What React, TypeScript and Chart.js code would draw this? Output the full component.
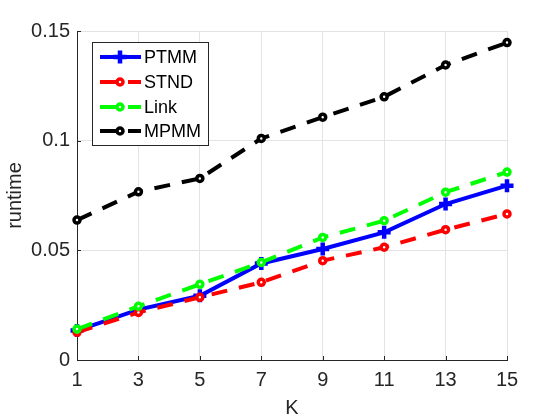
import React, { useEffect, useRef } from "react";
import { Chart, registerables } from "chart.js";

Chart.register(...registerables);

const kValues = [1, 3, 5, 7, 9, 11, 13, 15];
const ptmm = [0.0134, 0.023, 0.0293, 0.044, 0.0506, 0.0582, 0.0711, 0.0795];
const stnd = [0.0126, 0.0217, 0.0286, 0.0354, 0.0453, 0.0514, 0.0594, 0.0666];
const link = [0.0141, 0.0245, 0.0345, 0.0445, 0.0559, 0.0635, 0.0765, 0.0857];
const mpmm = [0.0638, 0.0767, 0.0828, 0.101, 0.1107, 0.12, 0.1345, 0.1447];

const xTicks = [1, 3, 5, 7, 9, 11, 13, 15];
const yTicks = [0, 0.05, 0.1, 0.15];
const yTickLabels = ["0", "0.05", "0.1", "0.15"];
const seriesNames = ["PTMM", "STND", "Link", "MPMM"];
const xTitle = "K";
const yTitle = "runtime";

const FONT = '"Liberation Sans", Arial, Helvetica, sans-serif';
const AXIS = "#262626";
const DASH = [16, 12];

export default function App() {
  const ref = useRef<HTMLCanvasElement>(null);

  useEffect(() => {
    const canvas = ref.current;
    if (!canvas) return;

    const styles = [
      { color: "#0000ff", dash: [] as number[], point: "cross", radius: 6.5, pbw: 4.5, fill: "#0000ff", order: 3 },
      { color: "#ff0000", dash: DASH, point: "circle", radius: 3, pbw: 3.5, fill: "#ffffff", order: 2 },
      { color: "#00ff00", dash: DASH, point: "circle", radius: 3, pbw: 3.5, fill: "#ffffff", order: 1 },
      { color: "#000000", dash: DASH, point: "circle", radius: 3, pbw: 3.5, fill: "#ffffff", order: 0 },
    ];
    const allData = [ptmm, stnd, link, mpmm];

    const datasets = allData.map((vals, i) => {
      const s = styles[i];
      return {
        label: seriesNames[i],
        data: kValues.map((k, j) => ({ x: k, y: vals[j] })),
        borderColor: s.color,
        backgroundColor: s.color,
        borderWidth: 4,
        borderDash: s.dash,
        borderCapStyle: "butt" as const,
        pointStyle: s.point as any,
        pointRadius: s.radius,
        pointBorderWidth: s.pbw,
        pointBorderColor: s.color,
        pointBackgroundColor: s.fill,
        tension: 0,
        order: s.order,
        clip: false as any,
      };
    });

    const decor = {
      id: "decor",
      beforeDatasetsDraw(chart: any) {
        const ctx = chart.ctx;
        const xs = chart.scales.x;
        const ys = chart.scales.y;
        const a = chart.chartArea;
        ctx.save();
        ctx.strokeStyle = AXIS;
        ctx.lineWidth = 1;
        ctx.setLineDash([]);
        for (const v of yTicks) {
          const y = Math.round(ys.getPixelForValue(v)) + 0.5;
          ctx.beginPath();
          ctx.moveTo(a.left, y);
          ctx.lineTo(a.left + 4, y);
          ctx.stroke();
        }
        for (const v of xTicks) {
          const x = Math.round(xs.getPixelForValue(v)) + 0.5;
          ctx.beginPath();
          ctx.moveTo(x, a.bottom);
          ctx.lineTo(x, a.bottom - 4);
          ctx.stroke();
        }
        ctx.restore();
      },
      afterDraw(chart: any) {
        const ctx = chart.ctx;
        const a = chart.chartArea;
        ctx.save();
        // axis titles
        ctx.fillStyle = AXIS;
        ctx.font = `20px ${FONT}`;
        ctx.textAlign = "center";
        ctx.textBaseline = "middle";
        ctx.fillText(xTitle, (a.left + a.right) / 2, 408);
        ctx.translate(15, (a.top + a.bottom) / 2);
        ctx.rotate(-Math.PI / 2);
        ctx.fillText(yTitle, 0, 0);
        ctx.restore();

        // legend
        ctx.save();
        const bx = 92.5, by = 42.5, bw = 116, bh = 103;
        ctx.fillStyle = "#ffffff";
        ctx.fillRect(bx, by, bw, bh);
        ctx.strokeStyle = AXIS;
        ctx.lineWidth = 1;
        ctx.strokeRect(bx, by, bw, bh);
        const rowY = [57, 82, 107, 131];
        seriesNames.forEach((name, i) => {
          const s = styles[i];
          const y = rowY[i];
          ctx.save();
          ctx.strokeStyle = s.color;
          ctx.lineWidth = 4;
          ctx.lineCap = "butt";
          ctx.setLineDash(s.dash);
          ctx.beginPath();
          ctx.moveTo(100, y);
          ctx.lineTo(141, y);
          ctx.stroke();
          ctx.setLineDash([]);
          const mx = 120;
          if (s.point === "cross") {
            ctx.lineWidth = 4.5;
            ctx.beginPath();
            ctx.moveTo(mx - s.radius, y);
            ctx.lineTo(mx + s.radius, y);
            ctx.moveTo(mx, y - s.radius);
            ctx.lineTo(mx, y + s.radius);
            ctx.stroke();
          } else {
            ctx.lineWidth = s.pbw;
            ctx.fillStyle = s.fill;
            ctx.beginPath();
            ctx.arc(mx, y, s.radius, 0, Math.PI * 2);
            ctx.fill();
            ctx.stroke();
          }
          ctx.restore();
          ctx.fillStyle = "#000000";
          ctx.font = `18px ${FONT}`;
          ctx.textAlign = "left";
          ctx.textBaseline = "middle";
          ctx.fillText(name, 144, y + 1);
        });
        ctx.restore();
      },
    };

    const chart = new Chart(canvas, {
      type: "line",
      data: { datasets: datasets as any },
      options: {
        responsive: false,
        animation: false,
        devicePixelRatio: 1,
        layout: { padding: { left: 0, right: 53, top: 31, bottom: 0 } },
        plugins: { legend: { display: false }, tooltip: { enabled: false }, title: { display: false } },
        scales: {
          x: {
            type: "linear",
            min: 1,
            max: 15,
            afterBuildTicks: (s: any) => {
              s.ticks = xTicks.map((v) => ({ value: v }));
            },
            afterFit: (s: any) => {
              s.height = 60;
            },
            ticks: {
              color: AXIS,
              font: { family: FONT, size: 20 },
              padding: 8,
              maxRotation: 0,
              autoSkip: false,
              callback: (v: any) => String(v),
            },
            grid: { color: "#e3e3e3", drawTicks: false, lineWidth: 1 },
            border: { display: true, color: AXIS, width: 1 },
          },
          y: {
            type: "linear",
            min: 0,
            max: 0.15,
            afterBuildTicks: (s: any) => {
              s.ticks = yTicks.map((v) => ({ value: v }));
            },
            afterFit: (s: any) => {
              s.width = 77;
            },
            ticks: {
              color: AXIS,
              font: { family: FONT, size: 20 },
              padding: 7,
              autoSkip: false,
              callback: (_v: any, i: number) => yTickLabels[i],
            },
            grid: { color: "#e3e3e3", drawTicks: false, lineWidth: 1 },
            border: { display: true, color: AXIS, width: 1 },
          },
        },
      },
      plugins: [decor],
    });

    return () => chart.destroy();
  }, []);

  return (
    <div style={{ position: "fixed", left: 0, top: 0, width: 560, height: 420, background: "#ffffff" }}>
      <canvas ref={ref} width={560} height={420} style={{ display: "block", width: 560, height: 420 }} />
    </div>
  );
}
